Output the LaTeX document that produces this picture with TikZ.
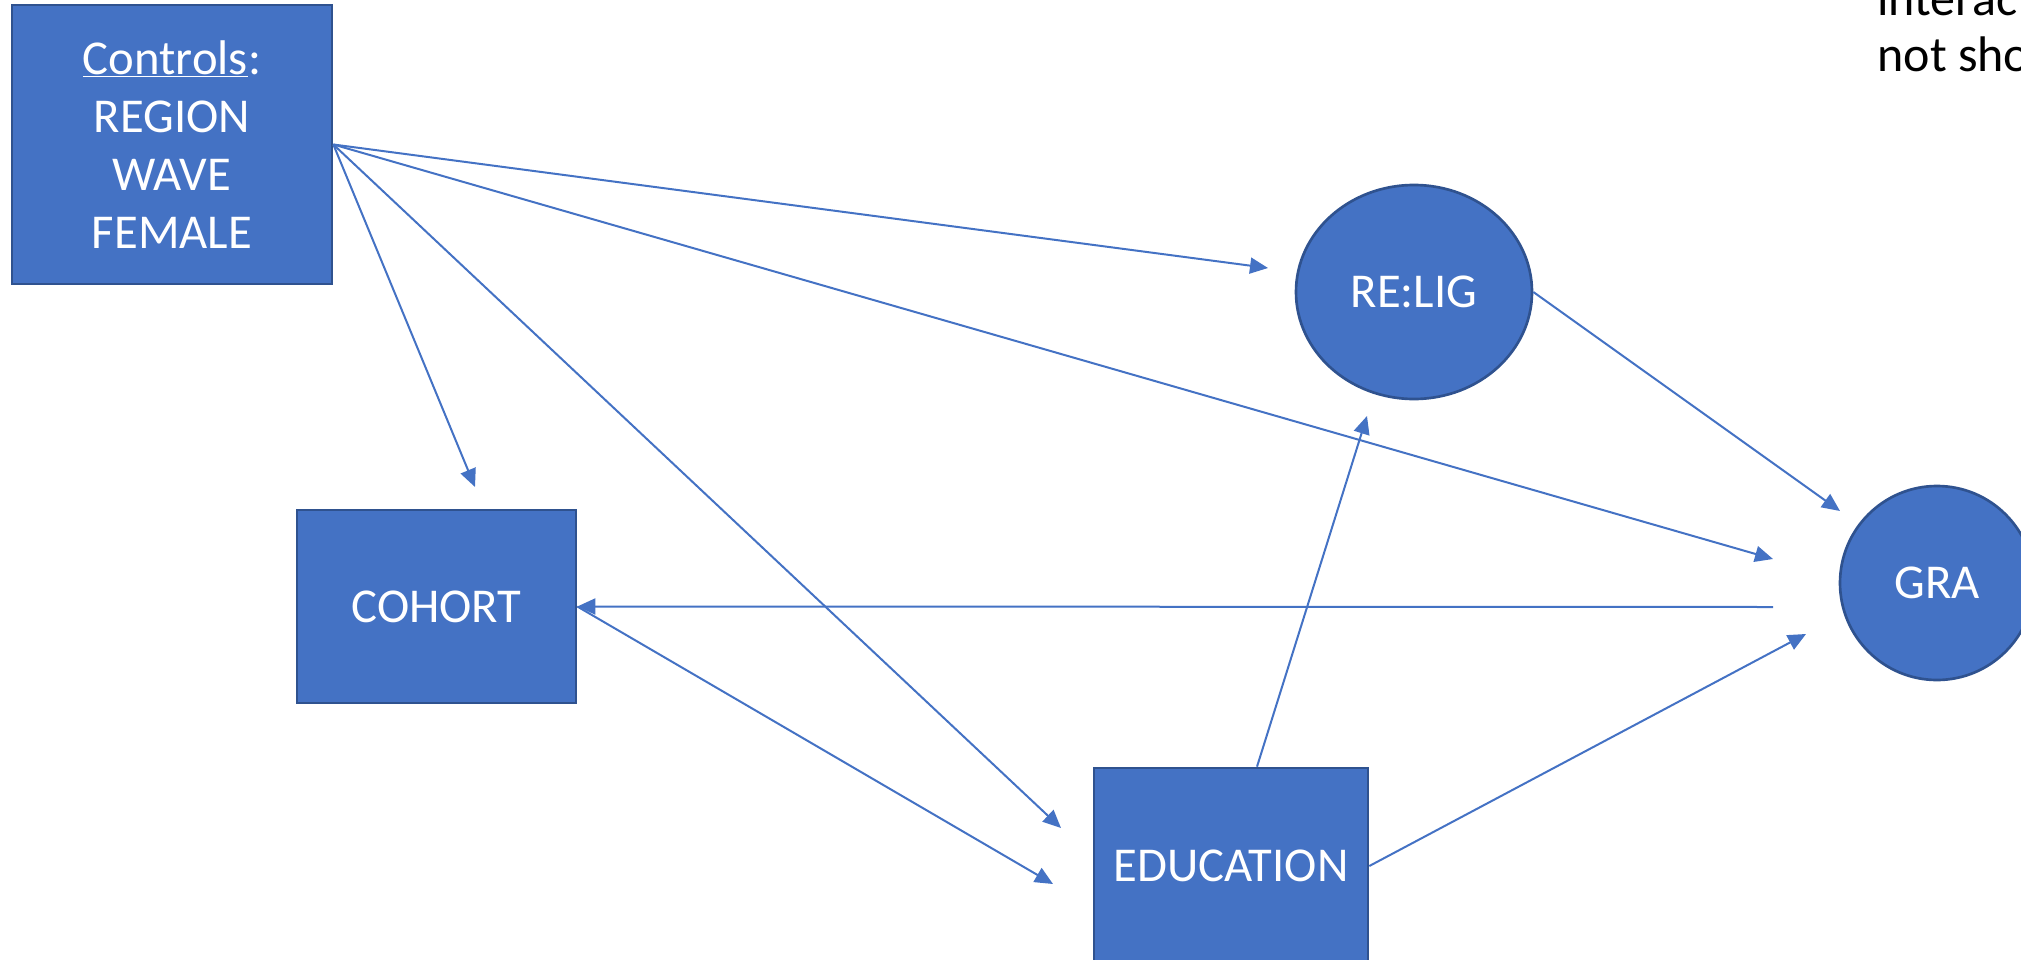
\documentclass[tikz,border=0pt]{standalone}
\usepackage{fontspec}
\setmainfont{Carlito}
\usetikzlibrary{arrows.meta,shapes.geometric}

\definecolor{boxfill}{RGB}{68,114,196}
\definecolor{boxline}{RGB}{47,82,143}

\tikzset{every picture/.style={line width=0.75pt}}
\tikzset{
  box/.style={draw=boxline, line width=2pt, fill=boxfill, text=white, inner sep=0pt, align=center, font=\fontsize{36.5}{43.5}\selectfont},
  arr/.style={draw=boxfill, line width=1.5pt, -{Triangle[length=13.5pt,width=12pt]}},
  note/.style={inner sep=0pt, anchor=base west, font=\fontsize{37.5}{43.5}\selectfont}
}

\begin{document}
\begin{tikzpicture}[x=0.75pt,y=0.75pt,yscale=-1,xscale=1]
	\useasboundingbox (0,0) rectangle (2021,960);

	%Shape: Rectangle [id:controls] 
	\node [box, minimum width=240pt, minimum height=209.25pt] (controls) at (172,144.5) {\underline{Controls}:\\REGION\\WAVE\\FEMALE};
	%Shape: Rectangle [id:cohort] 
	\node [box, minimum width=209.25pt, minimum height=144.75pt] (cohort) at (436.5,606.5) {COHORT};
	%Shape: Rectangle [id:edu] 
	\node [box, minimum width=205.5pt, minimum height=147pt] (edu) at (1231,866) {EDUCATION};
	%Shape: Ellipse [id:relig] 
	\node [box, ellipse, minimum width=177pt, minimum height=160.5pt] (relig) at (1414,292) {RE:LIG};
	%Shape: Circle [id:gra] 
	\node [box, circle, minimum size=145.5pt] (gra) at (1937,583) {GRA};

	% free ends
	\coordinate (tRelig) at (1268,268);
	\coordinate (tCohort) at (475,487);
	\coordinate (tEduA) at (1061,828);
	\coordinate (tEduB) at (1053,884);
	\coordinate (tGraA) at (1773,559);
	\coordinate (tGraB) at (1840,511);
	\coordinate (tGraC) at (1806,634);
	\coordinate (tReligB) at (1367,416);
	\coordinate (sGra) at (1773,607);

	%Straight Lines [id:controls] 
	\draw [arr] (controls.east) -- (tRelig);
	\draw [arr] (controls.east) -- (tCohort);
	\draw [arr] (controls.east) -- (tEduA);
	\draw [arr] (controls.east) -- (tGraA);
	%Straight Lines [id:relig] 
	\draw [arr] (relig.east) -- (tGraB);
	%Straight Lines [id:edu] 
	\draw [arr] ([xshift=19.5pt]edu.north) -- (tReligB);
	\draw [arr] (edu.east) -- (tGraC);
	%Straight Lines [id:cohort] 
	\draw [arr] (sGra) -- (cohort.east);
	\draw [arr] (cohort.east) -- (tEduB);

	% Text Node
	\node [note] (noteA) at (1877,15) {interact};
	% Text Node
	\node [note] (noteB) at (1877,71) {not sho};

\end{tikzpicture}
\end{document}
